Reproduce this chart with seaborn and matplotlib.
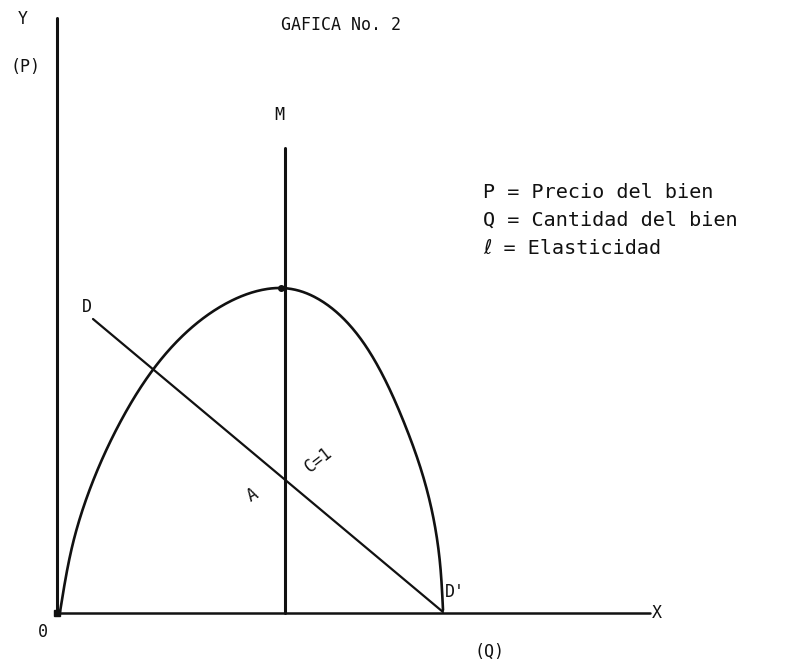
import numpy as np
import pandas as pd
import matplotlib
matplotlib.use("Agg")
import matplotlib.pyplot as plt
import seaborn as sns

# Curve of total revenue / elasticity (quantity vs price units)
curve_q = [3, 16, 36, 66, 98, 133, 170, 210, 224, 243, 263, 296, 323, 346, 366, 376, 383, 386]
curve_p = [1, 70, 132, 196, 246, 284, 310, 324, 325, 322, 313, 284, 243, 193, 137, 97, 50, 3]

# Demand line D -> D'
demand_q = [36, 386]
demand_p = [294, 1]

# Vertical line M through the maximum
m_q = [228, 228]
m_p = [0, 465]

# Axes lines
yaxis_q = [0, 0]
yaxis_p = [0, 595]
xaxis_q = [0, 593]
xaxis_p = [0, 0]

legend_lines = ["P = Precio del bien", "Q = Cantidad del bien", "\u2113 = Elasticidad"]
title_text = "GAFICA No. 2"


def natural_spline(t, v, tt):
    """Natural cubic spline of v(t) evaluated at tt."""
    n = len(t)
    h = np.diff(t)
    A = np.zeros((n, n))
    b = np.zeros(n)
    A[0, 0] = A[-1, -1] = 1.0
    for i in range(1, n - 1):
        A[i, i - 1] = h[i - 1]
        A[i, i] = 2 * (h[i - 1] + h[i])
        A[i, i + 1] = h[i]
        b[i] = 3 * ((v[i + 1] - v[i]) / h[i] - (v[i] - v[i - 1]) / h[i - 1])
    c = np.linalg.solve(A, b)
    out = np.empty_like(tt)
    idx = np.clip(np.searchsorted(t, tt) - 1, 0, n - 2)
    for k, (s, i) in enumerate(zip(tt, idx)):
        d = s - t[i]
        bi = (v[i + 1] - v[i]) / h[i] - h[i] * (2 * c[i] + c[i + 1]) / 3
        di = (c[i + 1] - c[i]) / (3 * h[i])
        out[k] = v[i] + bi * d + c[i] * d ** 2 + di * d ** 3
    return out


def smooth_path(xs, ys, n=600):
    xs = np.asarray(xs, float)
    ys = np.asarray(ys, float)
    t = np.concatenate([[0], np.cumsum(np.hypot(np.diff(xs), np.diff(ys)))])
    tt = np.linspace(0, t[-1], n)
    return natural_spline(t, xs, tt), natural_spline(t, ys, tt)


sns.set_theme(style="white")
mono = ["DejaVu Sans Mono", "DejaVu Sans"]
plt.rcParams["font.family"] = mono

fig = plt.figure(figsize=(7.98, 6.67), dpi=100)
ax = fig.add_axes([0, 0, 1, 1])
ax.set_xlim(-57, 741)
ax.set_ylim(-54, 613)
ax.axis("off")

ink = "#111111"

sx, sy = smooth_path(curve_q, curve_p)
curve_df = pd.DataFrame({"q": sx, "p": sy})
sns.lineplot(data=curve_df, x="q", y="p", sort=False, estimator=None,
             color=ink, linewidth=1.9, ax=ax)

sns.lineplot(x=demand_q, y=demand_p, sort=False, estimator=None,
             color=ink, linewidth=1.6, ax=ax)
sns.lineplot(x=m_q, y=m_p, sort=False, estimator=None,
             color=ink, linewidth=2.2, ax=ax)
sns.lineplot(x=yaxis_q, y=yaxis_p, sort=False, estimator=None,
             color=ink, linewidth=2.2, ax=ax)
sns.lineplot(x=xaxis_q, y=xaxis_p, sort=False, estimator=None,
             color=ink, linewidth=1.8, ax=ax)

# thick spots at the origin and at the top of the curve
ax.plot([0], [0], "s", color=ink, markersize=4)
ax.plot([224], [325], "o", color=ink, markersize=4)

txt = dict(color=ink, family=mono)
ax.text(284, 588, title_text, fontsize=12, ha="center", va="center", **txt)
ax.text(-34, 594, "Y", fontsize=12, ha="center", va="center", **txt)
ax.text(-32, 546, "(P)", fontsize=12, ha="center", va="center", **txt)
ax.text(222, 498, "M", fontsize=12, ha="center", va="center", **txt)
ax.text(30, 306, "D", fontsize=12, ha="center", va="center", **txt)
ax.text(196, 118, "A", fontsize=12, ha="center", va="center", rotation=30, **txt)
ax.text(262, 153, "C=1", fontsize=12, ha="center", va="center", rotation=38, **txt)
ax.text(398, 21, "D'", fontsize=12, ha="center", va="center", **txt)
ax.text(-14, -19, "0", fontsize=12, ha="center", va="center", **txt)
ax.text(433, -39, "(Q)", fontsize=12, ha="center", va="center", **txt)
ax.text(600, 0, "X", fontsize=12, ha="center", va="center", **txt)

for i, line in enumerate(legend_lines):
    ax.text(426, 421 - 28 * i, line, fontsize=14.5, ha="left", va="center", **txt)

fig.savefig("out.png", dpi=100)
